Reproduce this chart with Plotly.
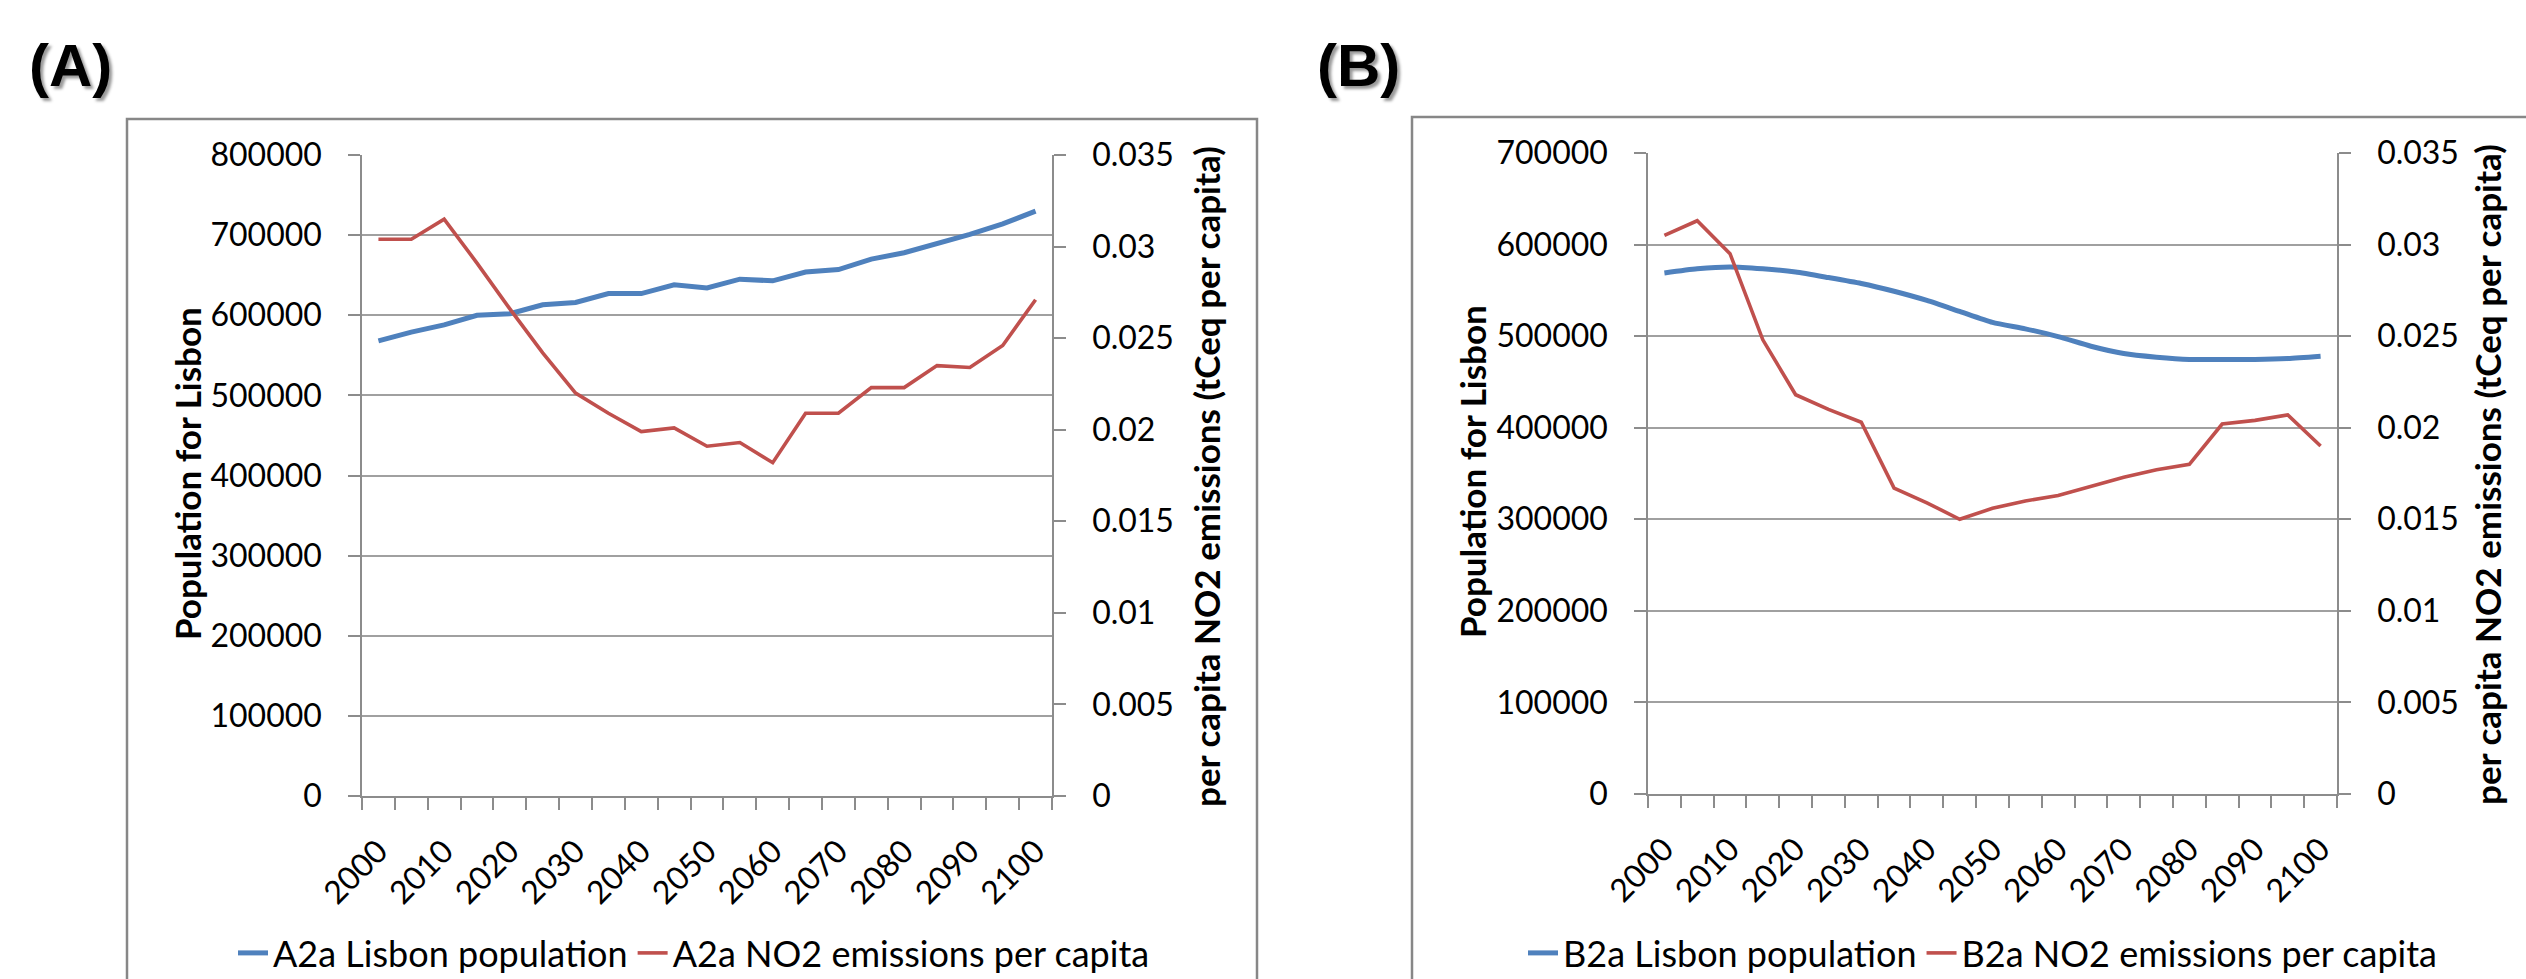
import plotly.graph_objects as go

W, H = 2526, 979

years = [2000 + 5 * i for i in range(21)]
tick_years = [2000, 2010, 2020, 2030, 2040, 2050, 2060, 2070, 2080, 2090, 2100]
tick_year_text = [str(y) for y in tick_years]

pop_a = [568000, 579000, 588000, 600000, 602000, 613000, 616000, 627000, 627000, 638000,
         634000, 645000, 643000, 654000, 657000, 670000, 678000, 689000, 701000, 714000, 730000]
no2_a = [0.0304, 0.0304, 0.0315, 0.0291, 0.0266, 0.0242, 0.0220, 0.0209, 0.0199, 0.0201,
         0.0191, 0.0193, 0.0182, 0.0209, 0.0209, 0.0223, 0.0223, 0.0235, 0.0234, 0.0246, 0.0271]

pop_b = [569000, 573500, 575500, 573500, 570000, 564000, 557500, 549000, 539000, 527000,
         515000, 508000, 499500, 489000, 481000, 477000, 474500, 474500, 474500, 475500, 478000]
no2_b = [0.0305, 0.0313, 0.0295, 0.0248, 0.0218, 0.0210, 0.0203, 0.0167, 0.0159, 0.0150,
         0.0156, 0.0160, 0.0163, 0.0168, 0.0173, 0.0177, 0.0180, 0.0202, 0.0204, 0.0207, 0.0190]

pop_ticks_a = [0, 100000, 200000, 300000, 400000, 500000, 600000, 700000, 800000]
pop_ticks_b = [0, 100000, 200000, 300000, 400000, 500000, 600000, 700000]
no2_ticks = [0, 0.005, 0.01, 0.015, 0.02, 0.025, 0.03, 0.035]
no2_tick_text = ["0", "0.005", "0.01", "0.015", "0.02", "0.025", "0.03", "0.035"]

BLUE = "#4F81BD"
RED = "#C0504D"
GRID = "#A0A0A0"
AXIS = "#8C8C8C"
FONT = "Lato"

def px_x(p):
    return p / W

def px_y(p):
    return 1 - p / H

fig = go.Figure()

fig.add_trace(go.Scatter(x=years, y=pop_a, name="A2a Lisbon population", mode="lines",
                         line=dict(color=BLUE, width=5), xaxis="x", yaxis="y", legend="legend"))
fig.add_trace(go.Scatter(x=years, y=no2_a, name="A2a NO2 emissions per capita", mode="lines",
                         line=dict(color=RED, width=3.6), xaxis="x", yaxis="y2", legend="legend"))
fig.add_trace(go.Scatter(x=years, y=pop_b, name="B2a Lisbon population", mode="lines",
                         line=dict(color=BLUE, width=5, shape="spline", smoothing=0.6),
                         xaxis="x2", yaxis="y3", legend="legend2"))
fig.add_trace(go.Scatter(x=years, y=no2_b, name="B2a NO2 emissions per capita", mode="lines",
                         line=dict(color=RED, width=3.6), xaxis="x2", yaxis="y4", legend="legend2"))

tickfont = dict(family=FONT, size=32, color="black")

def xaxis(domain, anchor):
    return dict(domain=domain, anchor=anchor, range=[years[0] - 2.5, years[-1] + 2.5],
                tickmode="array", tickvals=tick_years, ticktext=tick_year_text, tickangle=-45,
                ticks="", showgrid=False, zeroline=False, showline=True, linecolor=AXIS,
                linewidth=1.5, tickfont=tickfont, ticklabelstandoff=22,
                minor=dict(tick0=years[0] - 2.5, dtick=5, ticks="outside", ticklen=12,
                           tickcolor=AXIS, tickwidth=1.5, showgrid=False))

def yleft(domain, anchor, rng, tv):
    return dict(domain=domain, anchor=anchor, range=rng, tickmode="array", tickvals=tv,
                ticktext=[str(v) for v in tv], showgrid=True, gridcolor=GRID, gridwidth=2,
                zeroline=False, showline=True, linecolor=AXIS, linewidth=1.5,
                ticks="outside", ticklen=12, tickcolor=AXIS, tickwidth=1.5,
                tickfont=tickfont, ticklabelstandoff=20)

def yright(overlay, anchor):
    return dict(overlaying=overlay, anchor=anchor, side="right", range=[0, 0.035],
                tickmode="array", tickvals=no2_ticks, ticktext=no2_tick_text,
                showgrid=False, zeroline=False, showline=True, linecolor=AXIS, linewidth=1.5,
                ticks="outside", ticklen=12, tickcolor=AXIS, tickwidth=1.5,
                tickfont=tickfont, ticklabelstandoff=20)

xa_dom = [px_x(362), px_x(1052)]
xb_dom = [px_x(1648), px_x(2337)]
ya_dom = [px_y(796), px_y(155)]
yb_dom = [px_y(794), px_y(153)]

title_font = dict(family=FONT, size=35, color="black")
legend_font = dict(family=FONT, size=36, color="black")

annotations = [
    dict(text="<b>(A)</b>", x=px_x(70), y=px_y(66), xref="paper", yref="paper",
         showarrow=False, xanchor="center", yanchor="middle",
         font=dict(family="Liberation Sans", size=60, color="black",
                   shadow="3px 3px 3px #9a9a9a")),
    dict(text="<b>(B)</b>", x=px_x(1358), y=px_y(66), xref="paper", yref="paper",
         showarrow=False, xanchor="center", yanchor="middle",
         font=dict(family="Liberation Sans", size=60, color="black",
                   shadow="3px 3px 3px #9a9a9a")),
    dict(text="<b>Population for Lisbon</b>", x=px_x(187), y=px_y(474), xref="paper",
         yref="paper", showarrow=False, textangle=-90, xanchor="center", yanchor="middle",
         font=title_font),
    dict(text="<b>per capita NO2 emissions (tCeq per capita)</b>", x=px_x(1206), y=px_y(477),
         xref="paper", yref="paper", showarrow=False, textangle=-90, xanchor="center",
         yanchor="middle", font=title_font),
    dict(text="<b>Population for Lisbon</b>", x=px_x(1472), y=px_y(472), xref="paper",
         yref="paper", showarrow=False, textangle=-90, xanchor="center", yanchor="middle",
         font=title_font),
    dict(text="<b>per capita NO2 emissions (tCeq per capita)</b>", x=px_x(2487), y=px_y(475),
         xref="paper", yref="paper", showarrow=False, textangle=-90, xanchor="center",
         yanchor="middle", font=title_font),
]

shapes = [
    dict(type="rect", xref="paper", yref="paper", x0=px_x(127), x1=px_x(1257),
         y0=-0.1, y1=px_y(119), line=dict(color="#878787", width=2.5), layer="below"),
    dict(type="rect", xref="paper", yref="paper", x0=px_x(1412), x1=1.1,
         y0=-0.1, y1=px_y(117), line=dict(color="#878787", width=2.5), layer="below"),
]

fig.update_layout(
    width=W, height=H,
    margin=dict(l=0, r=0, t=0, b=0, autoexpand=False),
    paper_bgcolor="white", plot_bgcolor="white",
    font=dict(family=FONT, color="black"),
    xaxis=xaxis(xa_dom, "y"),
    yaxis=yleft(ya_dom, "x", [0, 800000], pop_ticks_a),
    yaxis2=yright("y", "x"),
    xaxis2=xaxis(xb_dom, "y3"),
    yaxis3=yleft(yb_dom, "x2", [0, 700000], pop_ticks_b),
    yaxis4=yright("y3", "x2"),
    legend=dict(orientation="h", x=px_x(694), y=px_y(953), xanchor="center", yanchor="middle",
                font=legend_font, bgcolor="rgba(0,0,0,0)", itemwidth=30),
    legend2=dict(orientation="h", x=px_x(1983), y=px_y(953), xanchor="center",
                 yanchor="middle", font=legend_font, bgcolor="rgba(0,0,0,0)", itemwidth=30),
    annotations=annotations,
    shapes=shapes,
    showlegend=True,
)

fig.write_html("out.html")
